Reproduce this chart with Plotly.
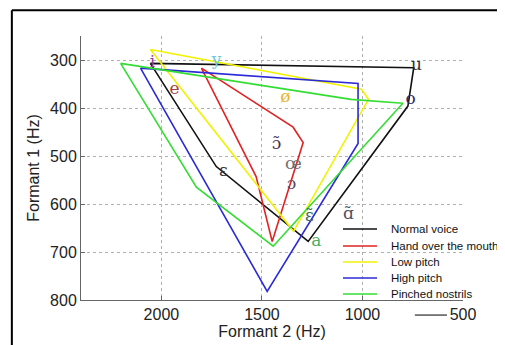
import plotly.graph_objects as go

# Formant data (F2, F1) for each condition, closed polygons
normal_f2 = [2055, 745, 774, 1270, 1727, 2055]
normal_f1 = [307, 316, 396, 678, 522, 307]

hand_f2 = [1801, 1345, 1295, 1449, 1529, 1801]
hand_f1 = [317, 440, 472, 678, 543, 317]

low_f2 = [2055, 1005, 970, 1343, 2055]
low_f1 = [278, 361, 382, 657, 278]

high_f2 = [2104, 1022, 1022, 1474, 2104]
high_f1 = [317, 349, 474, 782, 317]

pinched_f2 = [2203, 1057, 799, 1444, 1826, 2203]
pinched_f1 = [307, 382, 390, 688, 565, 307]

series_names = ["Normal voice", "Hand over the mouth", "Low pitch", "High pitch", "Pinched nostrils"]
series_colors = ["#111111", "#e02424", "#f2f200", "#2a2ad6", "#33dd33"]

# Vowel labels
vowel_text = ["i", "y", "e", "ø", "u", "o", "ɔ̃", "œ", "ɔ", "ɛ", "ɛ̃", "ɑ̃", "a"]
vowel_f2 = [2045, 1726, 1935, 1383, 731, 761, 1428, 1343, 1353, 1692, 1264, 1070, 1229]
vowel_f1 = [305, 302, 363, 378, 313, 382, 476, 518, 560, 532, 626, 622, 678]
vowel_colors = ["#9a3a9a", "#6cc8dc", "#a8433a", "#e8b530", "#333333", "#2c2c70",
                "#4a3050", "#707070", "#5a4a6a", "#333333", "#3f6a55", "#505060", "#4cb060"]

x_ticks = [2000, 1500, 1000, 500]
y_ticks = [300, 400, 500, 600, 700, 800]

fig = go.Figure()
all_f2 = [normal_f2, hand_f2, low_f2, high_f2, pinched_f2]
all_f1 = [normal_f1, hand_f1, low_f1, high_f1, pinched_f1]
for f2, f1, name, col in zip(all_f2, all_f1, series_names, series_colors):
    fig.add_trace(go.Scatter(x=f2, y=f1, mode="lines", name=name, showlegend=False,
                             line=dict(color=col, width=1.6)))

fig.add_trace(go.Scatter(x=vowel_f2, y=vowel_f1, mode="text", text=vowel_text,
                         textfont=dict(family="DejaVu Serif", size=17, color=vowel_colors),
                         showlegend=False, hoverinfo="skip"))

# page body has an 8px offset, so margins are reduced accordingly
fig.update_layout(
    width=505, height=345,
    margin=dict(l=73, r=50, t=28, b=53),
    paper_bgcolor="white", plot_bgcolor="white",
    font=dict(family="Liberation Sans", color="#222222"),
    showlegend=False,
)
fig.update_xaxes(range=[2400, 500], tickvals=x_ticks, showgrid=True, griddash="dot",
                 gridcolor="#b0b0b0", gridwidth=1, showline=True, linecolor="#666666",
                 linewidth=1, ticks="inside", ticklen=4, tickcolor="#666666", automargin=False,
                 tickfont=dict(size=16, color="#222222"), zeroline=False,
                 title=dict(text="Formant 2 (Hz)", font=dict(size=16, color="#222222"), standoff=2))
fig.update_yaxes(range=[800, 250], tickvals=y_ticks, showgrid=True, griddash="dot",
                 gridcolor="#b0b0b0", gridwidth=1, showline=True, linecolor="#666666",
                 linewidth=1, ticks="inside", ticklen=4, tickcolor="#666666", automargin=False,
                 tickfont=dict(size=16, color="#222222"), zeroline=False,
                 title=dict(text="Formant 1 (Hz)", font=dict(size=16, color="#222222"), standoff=6))

# Manual legend (no box), in paper coordinates
plot_l, plot_w, plot_b, plot_h = 81, 382, 300, 264
leg_rows_px = [229, 246, 262, 278, 294]
for name, col, ypx in zip(series_names, series_colors, leg_rows_px):
    yp = (plot_b - ypx) / plot_h
    fig.add_shape(type="line", xref="paper", yref="paper",
                  x0=(343 - plot_l) / plot_w, x1=(377 - plot_l) / plot_w, y0=yp, y1=yp,
                  line=dict(color=col, width=1.4))
    fig.add_annotation(xref="paper", yref="paper", x=(389 - plot_l) / plot_w, y=yp,
                       xanchor="left", yanchor="middle", text=name, showarrow=False,
                       font=dict(size=11.5, color="#111111", family="Liberation Sans"))

# outer frame (top and left edges) and stray stroke near the 500 tick
fig.add_shape(type="line", xref="paper", yref="paper", x0=-0.181, x1=1.2, y0=1.098, y1=1.098,
              line=dict(color="black", width=2))
fig.add_shape(type="line", xref="paper", yref="paper", x0=-0.181, x1=-0.181, y0=-0.4, y1=1.098,
              line=dict(color="black", width=2))
fig.add_shape(type="line", xref="paper", yref="paper", x0=0.874, x1=0.958, y0=-0.057, y1=-0.057,
              line=dict(color="black", width=1))

fig.write_html("out.html")
